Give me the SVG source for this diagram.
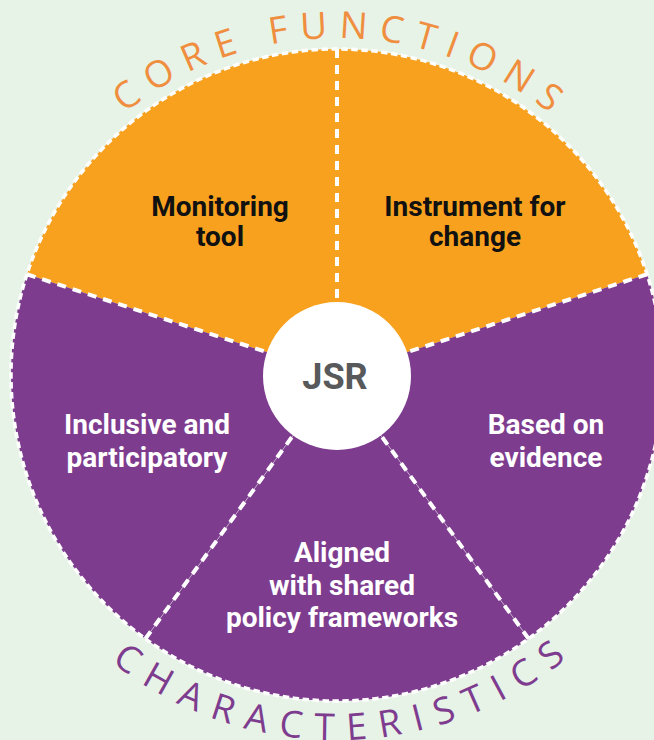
<svg xmlns="http://www.w3.org/2000/svg" width="654" height="740" viewBox="0 0 654 740">
<defs>
<style>
.bg{fill:#E8F3E7}
.orange{fill:#F8A11F}
.purple{fill:#7E3C8F}
.lbl{font-family:Roboto,"Liberation Sans",sans-serif;font-weight:700;font-size:28px;text-anchor:middle}
.dark{fill:#111111}
.light{fill:#FFFFFF}
.arc{font-family:"Open Sans","Liberation Sans",sans-serif;font-weight:400;font-size:37px}
.div{stroke:#FFFFFF;stroke-width:4;stroke-dasharray:9 7;fill:none}
.seam{stroke:#FFFFFF;stroke-width:1;stroke-opacity:0.45;fill:none}
.rim{stroke:#FFFFFF;stroke-width:3.5;stroke-dasharray:6.5 3.5;fill:none}
</style>
<path id="topArc" d="M0,375 A337,337 0 0 1 674,375"/>
<path id="botArc" d="M-28,375 A365,365 0 0 0 702,375"/>
</defs>
<rect class="bg" x="0" y="0" width="654" height="740"/>

<g id="monitoring-tool">
<path class="orange" d="M337,375 L26.96,274.26 A326,326 0 0 1 337,49 Z"/>
<text class="lbl dark" x="220" y="216">Monitoring</text>
<text class="lbl dark" x="220" y="246">tool</text>
</g>
<g id="instrument-for-change">
<path class="orange" d="M337,375 L337,49 A326,326 0 0 1 647.04,274.26 Z"/>
<text class="lbl dark" x="475" y="216">Instrument for</text>
<text class="lbl dark" x="475" y="246">change</text>
</g>
<g id="based-on-evidence">
<path class="purple" d="M337,375 L647.04,274.26 A326,326 0 0 1 528.62,638.74 Z"/>
<text class="lbl light" x="546" y="434">Based on</text>
<text class="lbl light" x="546" y="467">evidence</text>
</g>
<g id="aligned">
<path class="purple" d="M337,375 L528.62,638.74 A326,326 0 0 1 145.38,638.74 Z"/>
<text class="lbl light" x="342" y="562">Aligned</text>
<text class="lbl light" x="342" y="595">with shared</text>
<text class="lbl light" x="342" y="627">policy frameworks</text>
</g>
<g id="inclusive">
<path class="purple" d="M337,375 L145.38,638.74 A326,326 0 0 1 26.96,274.26 Z"/>
<text class="lbl light" x="147" y="434">Inclusive and</text>
<text class="lbl light" x="147" y="467">participatory</text>
</g>

<g id="connectors">
<circle class="rim" cx="337" cy="375" r="326"/>
<line class="seam" x1="337" y1="375" x2="528.62" y2="638.74"/>
<line class="seam" x1="337" y1="375" x2="145.38" y2="638.74"/>
<line class="div" x1="337" y1="49" x2="337" y2="375"/>
<line class="div" x1="647.04" y1="274.26" x2="337" y2="375"/>
<line class="div" x1="26.96" y1="274.26" x2="337" y2="375"/>
<line class="div" x1="528.62" y1="638.74" x2="337" y2="375"/>
<line class="div" x1="145.38" y1="638.74" x2="337" y2="375"/>
</g>

<g id="jsr">
<circle cx="337" cy="376" r="74" fill="#FFFFFF"/>
<text x="335" y="389" font-family="Roboto,'Liberation Sans',sans-serif" font-weight="700" font-size="36" fill="#58595B" text-anchor="middle">JSR</text>
</g>

<g id="core-functions">
<text class="arc" fill="#EF8E3F" letter-spacing="11.5" text-anchor="middle"><textPath href="#topArc" startOffset="535">CORE FUNCTIONS</textPath></text>
</g>
<g id="characteristics">
<text class="arc" fill="#7E3C8F" letter-spacing="12.8" text-anchor="middle"><textPath href="#botArc" startOffset="582">CHARACTERISTICS</textPath></text>
</g>
</svg>
